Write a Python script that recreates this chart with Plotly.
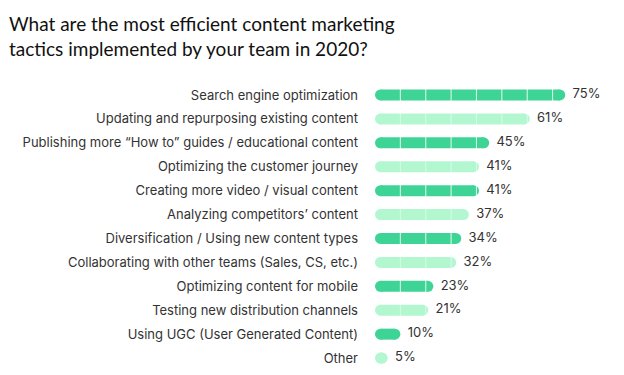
import plotly.graph_objects as go

categories = [
    "Search engine optimization",
    "Updating and repurposing existing content",
    "Publishing more \u201cHow to\u201d guides / educational content",
    "Optimizing the customer journey",
    "Creating more video / visual content",
    "Analyzing competitors\u2019 content",
    "Diversification / Using new content types",
    "Collaborating with other teams (Sales, CS, etc.)",
    "Optimizing content for mobile",
    "Testing new distribution channels",
    "Using UGC (User Generated Content)",
    "Other",
]
values = [75, 61, 45, 41, 41, 37, 34, 32, 23, 21, 10, 5]
title_text = "What are the most efficient content marketing<br>tactics implemented by your team in 2020?"

DARK = "#3dd496"
LIGHT = "#b3f7d1"

W, H = 624, 375
ML, MR, MT, MB = 375, 8, 83, 5
XMAX = 95
BAR_PX = 11
px_per_unit = (W - ML - MR) / XMAX
cap = (BAR_PX / 2) / px_per_unit  # cap radius in data units

fig = go.Figure()

for dark in (True, False):
    lx, ly = [], []
    dx, dy = [], []
    for i, (c, v) in enumerate(zip(categories, values)):
        if (i % 2 == 0) != dark:
            continue
        lx += [cap, v - cap, None]
        ly += [c, c, None]
        t = 10
        while t < v:
            dx.append(t)
            dy.append(c)
            t += 10
    col = DARK if dark else LIGHT
    fig.add_trace(go.Scatter(
        x=lx, y=ly, mode="lines+markers", hoverinfo="skip",
        line=dict(color=col, width=BAR_PX),
        marker=dict(symbol="circle", size=BAR_PX, color=col, line=dict(width=0)),
    ))
    fig.add_trace(go.Scatter(
        x=dx, y=dy, mode="markers", hoverinfo="skip",
        marker=dict(symbol="line-ns", size=BAR_PX,
                    line=dict(color="rgba(255,255,255,0.8)" if dark else "rgba(255,255,255,0.45)",
                              width=1.1)),
    ))

# value labels
fig.add_trace(go.Scatter(
    x=values, y=categories, mode="text",
    text=[f"\u00a0\u00a0{v}%" for v in values], textposition="middle right",
    textfont=dict(family="Inter, Roboto, sans-serif", size=13, color="#333333"),
    hoverinfo="skip", cliponaxis=False,
))

fig.update_layout(
    width=W, height=H,
    margin=dict(l=ML, r=MR, t=MT, b=MB),
    paper_bgcolor="white", plot_bgcolor="white",
    showlegend=False,
    font=dict(family="Inter, Roboto, sans-serif", color="#333333"),
    xaxis=dict(range=[0, XMAX], visible=False, fixedrange=True),
    yaxis=dict(range=[len(categories) - 0.5, -0.5], showgrid=False, zeroline=False, showline=False,
               categoryorder="array", categoryarray=categories, fixedrange=True,
               ticks="", ticklabelstandoff=16, automargin=False,
               tickfont=dict(family="Inter, Roboto, sans-serif", size=13, color="#333333")),
    annotations=[dict(
        text=title_text, xref="paper", yref="paper", xanchor="left", yanchor="top",
        x=-(ML - 7) / (W - ML - MR), y=1 + (MT - 10) / (H - MT - MB),
        showarrow=False, align="left",
        font=dict(family="Lato, sans-serif", size=19, color="#111111"),
    )],
)

fig.write_html("out.html", config={"displayModeBar": False},
               post_script="document.body.style.margin='0';document.body.style.padding='0';")
